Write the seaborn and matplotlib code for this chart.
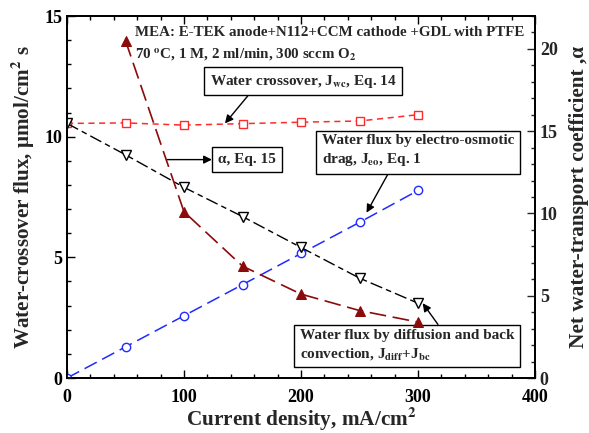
import matplotlib
matplotlib.use("Agg")
import matplotlib.pyplot as plt
from matplotlib.ticker import MultipleLocator
import numpy as np
import pandas as pd
import seaborn as sns

# Current density, mA/cm2
current = [0, 50, 100, 150, 200, 250, 300]
current_alpha = [50, 100, 150, 200, 250, 300]

# Fluxes, umol/cm2 s
j_wc = [10.55, 10.57, 10.48, 10.54, 10.60, 10.65, 10.91]
j_eo = [0.0, 1.29, 2.58, 3.87, 5.16, 6.45, 7.77]
j_diff_bc = [10.55, 9.25, 7.90, 6.69, 5.41, 4.14, 3.10]

# Net water-transport coefficient
alpha = [20.5, 10.1, 6.8, 5.1, 4.1, 3.4]

sns.set_theme(style="ticks")
plt.rcParams["font.family"] = ["Liberation Serif", "DejaVu Serif"]
plt.rcParams["font.weight"] = "bold"
plt.rcParams["mathtext.fontset"] = "stix"

fig = plt.figure(figsize=(5.89, 4.33), dpi=100)
ax = fig.add_axes([0.1138, 0.127, 0.7945, 0.836])
ax2 = ax.twinx()

flux = pd.DataFrame({"i": current, "wc": j_wc, "eo": j_eo, "db": j_diff_bc})
coef = pd.DataFrame({"i": current_alpha, "alpha": alpha})

sns.lineplot(data=flux, x="i", y="wc", ax=ax, color="#ff2a2a", lw=1.1,
             marker="s", ms=6, mfc="white", mec="#ff2a2a", mew=1.0,
             linestyle=(0, (4, 3)), zorder=3)
sns.lineplot(data=flux, x="i", y="eo", ax=ax, color="#1f2bff", lw=1.1,
             marker="o", ms=6, mfc="white", mec="#1f2bff", mew=1.0,
             linestyle=(0, (9, 4)), zorder=3)
sns.lineplot(data=flux, x="i", y="db", ax=ax, color="black", lw=1.0,
             marker="v", ms=6.5, mfc="white", mec="black", mew=1.0,
             linestyle=(0, (9, 3, 4, 3)), zorder=3)
sns.lineplot(data=coef, x="i", y="alpha", ax=ax2, color="#8b0a0a", lw=1.2,
             marker="^", ms=6.5, mfc="#8b0a0a", mec="#8b0a0a",
             linestyle=(0, (10, 4)), zorder=3)

ax.set_xlim(0, 400)
ax.set_ylim(0, 15)
ax2.set_ylim(0, 22)

ax.xaxis.set_major_locator(MultipleLocator(100))
ax.xaxis.set_minor_locator(MultipleLocator(20))
ax.yaxis.set_major_locator(MultipleLocator(5))
ax.yaxis.set_minor_locator(MultipleLocator(1))
ax2.yaxis.set_major_locator(MultipleLocator(5))
ax2.yaxis.set_minor_locator(MultipleLocator(1))

for a in (ax, ax2):
    for s in a.spines.values():
        s.set_linewidth(1.3)
        s.set_color("black")
ax.tick_params(which="both", direction="in", top=True, right=False,
               labelsize=13, width=1.0, colors="black")
ax.tick_params(axis="x", pad=8)
ax.tick_params(which="major", length=6)
ax.tick_params(which="minor", length=3)
ax2.tick_params(which="both", direction="in", labelsize=13, width=1.0)
ax2.tick_params(which="major", length=6)
ax2.tick_params(which="minor", length=3)
for lab in ax.get_xticklabels() + ax.get_yticklabels() + ax2.get_yticklabels():
    lab.set_fontweight("bold")

ax.set_xlabel("Current density, mA/cm$^{\\mathbf{2}}$", fontsize=15.3,
              fontweight="bold", labelpad=0)
ax.set_ylabel("Water-crossover flux, \u03bcmol/cm$^{\\mathbf{2}}$ s", fontsize=15.2,
              fontweight="bold", labelpad=5)
ax2.set_ylabel("Net water-transport coefficient ,\u03b1", fontsize=15.3,
               fontweight="bold", labelpad=8)

# Header text
ax.text(0.145, 0.944, "MEA: E-TEK anode+N112+CCM cathode +GDL with PTFE",
        transform=ax.transAxes, fontsize=10.8, fontweight="bold", va="baseline")
ax.text(0.145, 0.884, "70 $^{\\mathbf{o}}$C, 1 M, 2 ml/min, 300 sccm O$_{\\mathbf{2}}$",
        transform=ax.transAxes, fontsize=10.8, fontweight="bold", va="baseline")

box = dict(boxstyle="square,pad=0.38", fc="white", ec="black", lw=1.0)
arrow = dict(arrowstyle="-|>", color="black", lw=1.0, mutation_scale=12,
             shrinkA=0, shrinkB=0)

ax.annotate("Water crossover, J$_{\\mathbf{wc}}$, Eq. 14",
            xy=(135, 10.55), xytext=(202, 12.3), fontsize=11,
            fontweight="bold", ha="center", va="center", bbox=box,
            arrowprops=dict(arrow, relpos=(0.23, 0.0)), zorder=5)
ax.annotate("\u03b1, Eq. 15", xy=(85, 9.05), xytext=(154, 9.05),
            fontsize=11, fontweight="bold", ha="center", va="center",
            bbox=box, arrowprops=dict(arrow, arrowstyle="<|-", relpos=(0.0, 0.5)),
            zorder=5)
ax.annotate("Water flux by electro-osmotic\ndrag, J$_{\\mathbf{eo}}$, Eq. 1",
            xy=(256, 6.85), xytext=(218, 9.4), fontsize=11,
            fontweight="bold", ha="left", va="center", bbox=box,
            linespacing=1.3, arrowprops=dict(arrow, relpos=(0.36, 0.0)),
            zorder=5)
ax.annotate("Water flux by diffusion and back\nconvection, J$_{\\mathbf{diff}}$+J$_{\\mathbf{bc}}$",
            xy=(304, 3.1), xytext=(199, 1.35), fontsize=11,
            fontweight="bold", ha="left", va="center", bbox=box,
            linespacing=1.3, arrowprops=dict(arrow, relpos=(0.66, 1.0)),
            zorder=5)

fig.savefig("out.png", dpi=100)
